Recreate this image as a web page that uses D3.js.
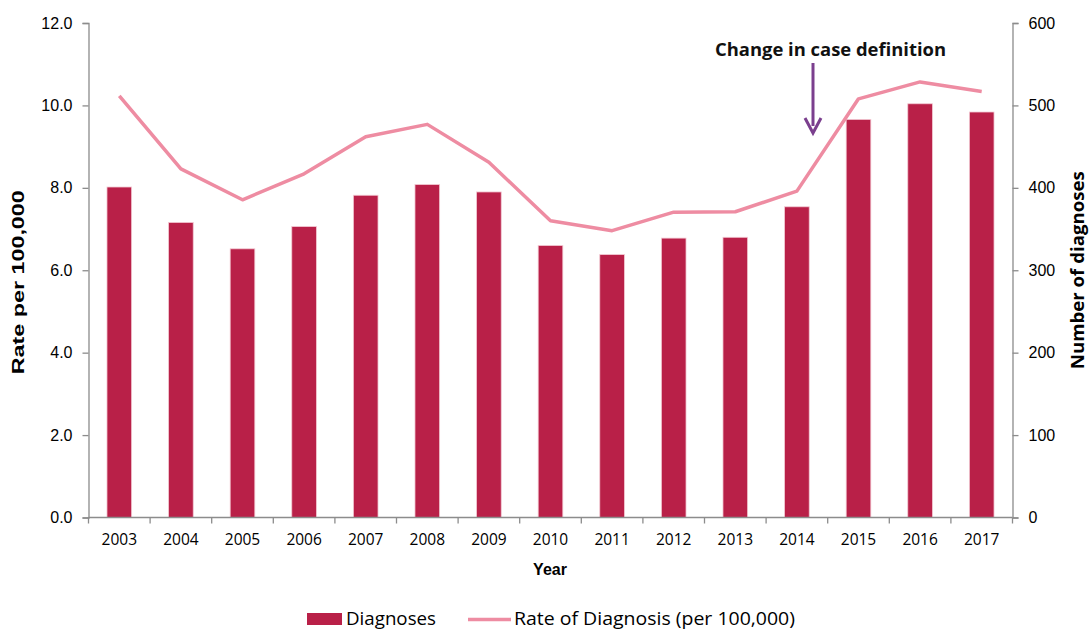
<!DOCTYPE html>
<html><head><meta charset="utf-8">
<script src="https://cdn.jsdelivr.net/npm/d3@7"></script>
<style>body{margin:0;background:#fff}svg{display:block}</style>
</head><body><svg id="c" width="1090" height="630"></svg>
<script>
const years = ["2003","2004","2005","2006","2007","2008","2009","2010","2011","2012","2013","2014","2015","2016","2017"];
const diagnoses = [401,358,326,353,391,404,395,330,319,339,340,377,483,502,492];
const rate = [10.23,8.46,7.71,8.34,9.24,9.54,8.62,7.20,6.96,7.41,7.42,7.92,10.16,10.57,10.34];
const leftTicks = [0,2,4,6,8,10,12];
const rightTicks = [0,100,200,300,400,500,600];

const svg = d3.select("#c");
const L = 88.5, R = 1012.5, T = 23, B = 517.5;
const x = d3.scaleBand().domain(years).range([L, R]).paddingInner(0.6).paddingOuter(0.3);
const xb = d3.scaleBand().domain(years).range([L, R]);
const yL = d3.scaleLinear().domain([0, 12]).range([B, T]);
const yR = d3.scaleLinear().domain([0, 600]).range([B, T]);
const axisCol = "#8c8c8c";

// bars
svg.append("g").selectAll("rect").data(years).join("rect")
  .attr("x", d => x(d)).attr("width", x.bandwidth())
  .attr("y", (d,i) => yR(diagnoses[i])).attr("height", (d,i) => B - yR(diagnoses[i]))
  .attr("fill", "#B92048").attr("stroke", "#f3c9d3").attr("stroke-width", 0.8);

// line
const line = d3.line().x((d,i) => xb(years[i]) + xb.bandwidth()/2).y(d => yL(d));
svg.append("path").datum(rate).attr("d", line).attr("fill", "none")
  .attr("stroke", "#EE8CA2").attr("stroke-width", 3.5).attr("stroke-linejoin", "round");

// left axis
const gL = svg.append("g").attr("transform", `translate(${L},0)`)
  .call(d3.axisLeft(yL).tickValues(leftTicks).tickFormat(d3.format(".1f")).tickSize(6).tickPadding(10));
// right axis
const gR = svg.append("g").attr("transform", `translate(${R},0)`)
  .call(d3.axisRight(yR).tickValues(rightTicks).tickSize(6).tickPadding(10));
// bottom axis
const gB = svg.append("g").attr("transform", `translate(0,${B})`)
  .call(d3.axisBottom(xb).tickSize(0).tickPadding(16));
[gL, gR, gB].forEach(g => {
  g.select(".domain").attr("stroke", axisCol).attr("stroke-width", 1.3);
  g.selectAll(".tick line").attr("stroke", axisCol).attr("stroke-width", 1.3);
  g.selectAll("text").attr("fill", "#000");
});
gL.selectAll("text").style("font", "16px 'Liberation Sans', Arial, sans-serif");
gR.selectAll("text").style("font", "16px 'Liberation Sans', Arial, sans-serif");
gB.selectAll("text").style("font", "15.5px 'Open Sans', 'Liberation Sans', sans-serif").attr("dy", "0.71em");
gB.select(".domain").attr("d", `M${L},0H${R}`);
// x boundary ticks
gB.append("g").selectAll("line").data(d3.range(years.length + 1)).join("line")
  .attr("x1", i => L + i * xb.step()).attr("x2", i => L + i * xb.step())
  .attr("y1", 0).attr("y2", 6).attr("stroke", axisCol).attr("stroke-width", 1.3);

// axis titles
svg.append("text").attr("x", 550).attr("y", 575).attr("text-anchor", "middle")
  .style("font", "bold 16px 'Liberation Sans', Arial, sans-serif").text("Year");
svg.append("text").attr("transform", `translate(24,${(T+B)/2 + 12}) rotate(-90)`).attr("text-anchor", "middle")
  .style("font", "bold 17px 'Liberation Sans', Arial, sans-serif")
  .attr("textLength", 184).attr("lengthAdjust","spacingAndGlyphs").text("Rate per 100,000");
svg.append("text").attr("transform", `translate(1084,${(T+B)/2}) rotate(-90)`).attr("text-anchor", "middle")
  .style("font", "bold 18px 'Open Sans', sans-serif").attr("textLength", 198).attr("lengthAdjust","spacingAndGlyphs").text("Number of diagnoses");

// annotation
svg.append("text").attr("x", 715).attr("y", 56)
  .style("font", "bold 18px 'Open Sans', sans-serif").attr("fill", "#111")
  .attr("textLength", 231).attr("lengthAdjust","spacingAndGlyphs").text("Change in case definition");
svg.append("line").attr("x1", 813).attr("x2", 813).attr("y1", 63).attr("y2", 126)
  .attr("stroke", "#7B3F8E").attr("stroke-width", 3);
svg.append("path").attr("d", "M805,118 L813,133 L821,118").attr("fill", "none")
  .attr("stroke", "#7B3F8E").attr("stroke-width", 3).attr("stroke-linejoin", "miter");

// legend
const lg = svg.append("g");
lg.append("rect").attr("x", 307).attr("y", 613).attr("width", 35).attr("height", 12).attr("fill", "#B92048");
lg.append("text").attr("x", 346).attr("y", 625).style("font", "18px 'Open Sans', sans-serif")
  .attr("textLength", 90).attr("lengthAdjust","spacingAndGlyphs").text("Diagnoses");
lg.append("line").attr("x1", 468).attr("x2", 511).attr("y1", 619.5).attr("y2", 619.5)
  .attr("stroke", "#EE8CA2").attr("stroke-width", 3.5);
lg.append("text").attr("x", 514).attr("y", 625).style("font", "18px 'Open Sans', sans-serif")
  .attr("textLength", 281).attr("lengthAdjust","spacingAndGlyphs").text("Rate of Diagnosis (per 100,000)");
</script></body></html>
